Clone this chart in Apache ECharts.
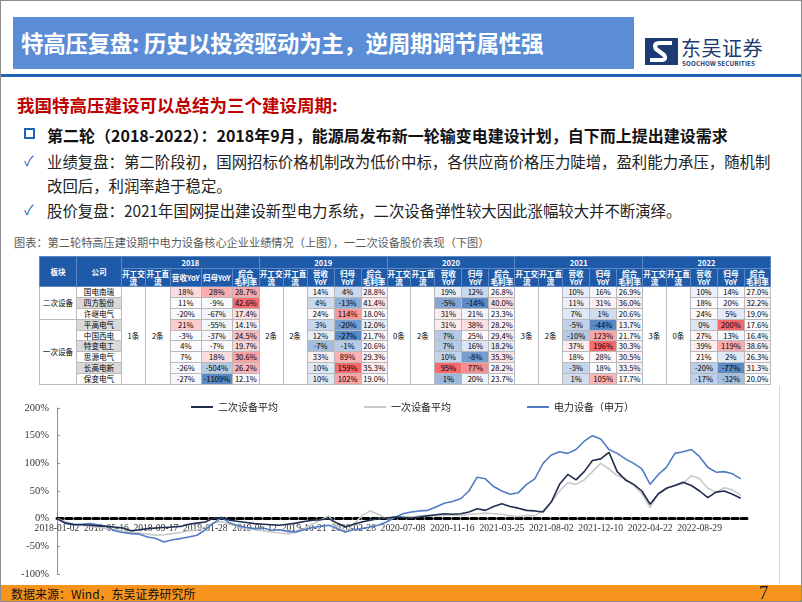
<!DOCTYPE html>
<html>
<head>
<meta charset="utf-8">
<script src="https://cdn.jsdelivr.net/npm/echarts@6.0.0/dist/echarts.min.js"></script>
<style>
html,body{margin:0;padding:0;background:#fff;}
body{width:802px;height:602px;position:relative;overflow:hidden;font-family:"Noto Sans CJK SC","Noto Sans",sans-serif;color:#000;}
#frame{position:absolute;left:0;top:0;width:800px;height:600px;border:1px solid #8c8c8c;z-index:5;pointer-events:none;}
#titlebar{position:absolute;left:13px;top:17px;width:621px;height:52px;background:#5a8dd6;}
#title{position:absolute;left:21px;top:17px;height:52px;line-height:52px;color:#fff;font-size:22.6px;font-weight:bold;letter-spacing:-0.4px;white-space:nowrap;}
#rule{position:absolute;left:0;top:74px;width:802px;height:3px;background:#1f64b6;}
#logo{position:absolute;left:645px;top:36px;width:130px;height:32px;}
#logo .cn{position:absolute;left:36px;top:-3px;font-size:20px;color:#1c3b72;letter-spacing:0.5px;white-space:nowrap;}
#logo .en{position:absolute;left:37px;top:23px;font-size:6.3px;font-weight:bold;color:#1c3b72;white-space:nowrap;letter-spacing:0.1px;}
.txt{position:absolute;white-space:nowrap;}
#h1{left:17px;top:92px;font-size:17.5px;font-weight:bold;color:#c00000;}
#h2{left:47px;top:123px;font-size:16px;font-weight:bold;color:#111;}
#sq{position:absolute;left:24px;top:128px;width:7px;height:7px;border:2px solid #1f64b6;}
.chk{position:absolute;left:24px;color:#1f64b6;font-size:14px;}
.body{font-size:15.4px;color:#222;left:47px;}
#cap{left:14px;top:234px;font-size:11.2px;color:#595959;}
#tbl{position:absolute;left:39px;top:256px;border-collapse:collapse;table-layout:fixed;font-size:7.6px;}
#tbl td,#tbl th{padding:0;text-align:center;vertical-align:middle;line-height:8px;overflow:hidden;white-space:nowrap;}
#tbl th{background:#1f5aa8;color:#fff;font-weight:bold;border:1px solid #5d88c6;}
#tbl td{border:1px solid #b9b9b9;height:9.9px;}
#tbl tr.h1 th{height:11px;}
#tbl tr.h2 th{height:17px;}
#tbl td.gray{background:#d9d9d9;}
#chart{position:absolute;left:0;top:388px;width:790px;height:196px;}
#vline{position:absolute;left:779px;top:386px;width:1px;height:198px;background:#d8d8d8;}
#footer{position:absolute;left:0;top:585px;width:802px;height:17px;background:#f7941e;}
#src{position:absolute;left:11px;top:0;line-height:17px;font-size:12px;color:#111;}
#pg{position:absolute;left:759px;top:-3px;font-family:"Liberation Serif",serif;font-size:19px;color:#222;}
</style>
</head>
<body>
<div id="frame"></div>
<div id="titlebar"></div>
<div id="title">特高压复盘: 历史以投资驱动为主，逆周期调节属性强</div>
<div id="rule"></div>
<div id="logo">
  <svg width="33" height="27" viewBox="0 0 33 27" style="position:absolute;left:0;top:2px">
    <rect x="0" y="0" width="33" height="27" fill="#1c3b72"/>
    <path d="M27 5 L15 5 Q8 5 11 11 L19 17 Q22 22 16 22 L5 22" stroke="#fff" stroke-width="4.2" fill="none"/>
  </svg>
  <div class="cn">东吴证券</div>
  <div class="en">SOOCHOW SECURITIES</div>
</div>
<div class="txt" id="h1">我国特高压建设可以总结为三个建设周期:</div>
<div id="sq"></div>
<div class="txt" id="h2">第二轮（2018-2022）：2018年9月，能源局发布新一轮输变电建设计划，自下而上提出建设需求</div>
<div class="chk" style="top:150px">✓</div>
<div class="txt body" style="top:150px">业绩复盘：第二阶段初，国网招标价格机制改为低价中标，各供应商价格压力陡增，盈利能力承压，随机制</div>
<div class="txt body" style="top:174px">改回后，利润率趋于稳定。</div>
<div class="chk" style="top:199px">✓</div>
<div class="txt body" style="top:199px">股价复盘：2021年国网提出建设新型电力系统，二次设备弹性较大因此涨幅较大并不断演绎。</div>
<div class="txt" id="cap">图表：第二轮特高压建设期中电力设备核心企业业绩情况（上图），一二次设备股价表现（下图）</div>
<table id="tbl"></table>
<div id="vline"></div>
<div id="chart"></div>
<div id="footer"><div id="src">数据来源：Wind，东吴证券研究所</div><div id="pg">7</div></div>

<script>
// ---------------- table data ----------------
const years = ['2018', '2019', '2020', '2021', '2022'];
const sectorNames = ['二次设备', '一次设备'];
const sectorRowCounts = [3, 6];
const companies = ['国电南瑞', '四方股份', '许继电气', '平高电气', '中国西电', '特变电工', '思源电气', '长高电新', '保变电气'];
const acStarts = ['1条', '2条', '0条', '3条', '3条'];
const dcStarts = ['2条', '2条', '2条', '2条', '0条'];
const revenueYoY = [
  [18, 11, -20, 21, -3, 4, 7, -26, -27],
  [14, 4, 24, 3, 12, -7, 33, 10, 10],
  [19, -5, 31, 31, 7, 7, 10, 95, 1],
  [10, 11, 7, -5, -10, 37, 18, -3, 1],
  [10, 18, 24, 0, 27, 39, 21, -20, -17]
];
const profitYoY = [
  [28, -9, -67, -55, -37, -7, 18, -504, -1109],
  [4, -13, 114, -20, -27, -1, 89, 159, 102],
  [12, -14, 21, 38, 25, 16, -8, 77, 20],
  [16, 31, 1, -44, 123, 196, 28, 18, 105],
  [14, 20, 5, 200, 13, 119, 2, -77, -32]
];
const grossMargin = [
  [28.7, 42.6, 17.4, 14.1, 24.5, 19.7, 30.6, 26.2, 12.1],
  [28.8, 41.4, 18.0, 12.0, 21.7, 20.6, 29.3, 35.3, 19.0],
  [26.8, 40.0, 23.3, 28.2, 29.4, 18.2, 35.3, 28.2, 23.7],
  [26.9, 36.0, 20.6, 13.7, 21.7, 30.3, 30.5, 33.5, 17.7],
  [27.0, 32.2, 19.0, 17.6, 16.4, 38.6, 26.3, 31.3, 20.0]
];

// ---------------- chart data ----------------
const xTickLabels = ['2018-01-02', '2018-05-16', '2018-09-17', '2019-01-28', '2019-06-12', '2019-10-21', '2020-02-28',
  '2020-07-08', '2020-11-16', '2021-03-25', '2021-08-02', '2021-12-10', '2022-04-22', '2022-08-29'];
const TICK_STEP = 90;      // trading days between labelled ticks
const SAMPLE_STEP = 15;    // trading days between read-off samples
const Y_MIN = -100, Y_MAX = 200, Y_STEP = 50;
const seriesNames = ['二次设备平均', '一次设备平均', '电力设备（申万）'];
const secondaryAvg = [0, -8, -10, -11, -12, -13, -14, -15, -17, -22, -20, -18, -17, -16, -15, -14, -10, -8, -6, 1,
  2, -3, -5, -7, -9, -10, -11, -12, -10, -8, -5, -3, -2, 0, -8, -15, -10, -6, -3, 0,
  1, 3, 2, 1, 3, 5, 7, 9, 8, 9, 12, 18, 15, 22, 27, 22, 19, 15, 14, 12,
  30, 62, 80, 70, 85, 105, 108, 120, 85, 70, 62, 50, 26, 45, 55, 60, 66, 60, 50, 38,
  48, 50, 44, 37];
const primaryAvg = [0, -5, -10, -12, -14, -16, -18, -20, -22, -25, -26, -28, -30, -29, -27, -25, -22, -20, -15, -8,
  -5, -10, -15, -18, -20, -22, -24, -26, -27, -25, -18, -10, -2, 5, -15, -25, -10, 5, 14, 8,
  0, 3, 4, 3, 5, 6, 5, 6, 7, 6, 8, 9, 10, 9, 8, 5, 4, 6, 5, 15,
  30, 50, 65, 62, 70, 85, 100, 90, 78, 72, 60, 45, 20, 45, 56, 60, 63, 78, 72, 55,
  48, 56, 52, 42];
const swPowerEquip = [0, -8, -12, -10, -9, -11, -14, -22, -25, -27, -28, -33, -36, -42, -38, -36, -33, -30, -20, -8,
  2, -8, -13, -16, -18, -17, -21, -20, -23, -24, -20, -16, -14, -12, -18, -24, -20, -18, -15, -12,
  -6, 2, 9, 12, 14, 15, 21, 28, 31, 36, 50, 75, 72, 58, 50, 44, 47, 62, 72, 100,
  115, 121, 118, 125, 140, 150, 144, 125, 118, 108, 100, 90, 62, 80, 93, 118, 121, 125, 112, 93,
  84, 85, 81, 72];

// ---------------- build table ----------------
function mix(a, b, t) {
  const pa = [parseInt(a.slice(1,3),16), parseInt(a.slice(3,5),16), parseInt(a.slice(5,7),16)];
  const pb = [parseInt(b.slice(1,3),16), parseInt(b.slice(3,5),16), parseInt(b.slice(5,7),16)];
  return 'rgb(' + pa.map((v, i) => Math.round(v + (pb[i] - v) * t)).join(',') + ')';
}
function scaleColor(v, min, mid, max) {
  if (v >= mid) return mix('#FCFCFF', '#F8696B', max === mid ? 0 : (v - mid) / (max - mid));
  return mix('#FCFCFF', '#5A8AC6', (mid - v) / (mid - min));
}
(function buildTable() {
  const tbl = document.getElementById('tbl');
  const widthsFirst = [21, 25, 31, 31, 27];
  const widthsOther = [21, 24, 27, 27, 26];
  let html = '<colgroup><col style="width:37px"><col style="width:45px">';
  years.forEach((y, i) => (i === 0 ? widthsFirst : widthsOther).forEach(w => html += '<col style="width:' + w + 'px">'));
  html += '</colgroup>';
  html += '<tr class="h1"><th rowspan="2">板块</th><th rowspan="2">公司</th>';
  years.forEach(y => html += '<th colspan="5">' + y + '</th>');
  html += '</tr><tr class="h2">';
  years.forEach((y, i) => {
    html += '<th>开工交<br>流</th><th>开工直<br>流</th>';
    html += i === 0 ? '<th>营收YoY</th><th>归母YoY</th>' : '<th>营收<br>YoY</th><th>归母<br>YoY</th>';
    html += '<th>综合<br>毛利率</th>';
  });
  html += '</tr>';
  const stats = years.map((y, yi) => {
    const all = revenueYoY[yi].concat(profitYoY[yi], grossMargin[yi]).slice().sort((a, b) => a - b);
    return {min: all[0], max: all[all.length - 1], mid: all[(all.length - 1) / 2]};
  });
  let sectorStart = 0, sIdx = 0;
  companies.forEach((c, r) => {
    html += '<tr>';
    if (r === sectorStart) {
      html += '<td rowspan="' + sectorRowCounts[sIdx] + '">' + sectorNames[sIdx] + '</td>';
      sectorStart += sectorRowCounts[sIdx]; sIdx++;
    }
    html += '<td class="' + (r % 2 === 1 ? 'gray' : '') + '">' + c + '</td>';
    years.forEach((y, yi) => {
      if (r === 0) html += '<td rowspan="' + companies.length + '">' + acStarts[yi] + '</td><td rowspan="' + companies.length + '">' + dcStarts[yi] + '</td>';
      const st = stats[yi];
      const cells = [[revenueYoY[yi][r], revenueYoY[yi][r] + '%'], [profitYoY[yi][r], profitYoY[yi][r] + '%'], [grossMargin[yi][r], grossMargin[yi][r].toFixed(1) + '%']];
      cells.forEach(([v, t]) => html += '<td style="background:' + scaleColor(v, st.min, st.mid, st.max) + '">' + t + '</td>');
    });
    html += '</tr>';
  });
  tbl.innerHTML = html;
})();

// ---------------- chart ----------------
const toPoints = arr => arr.map((v, k) => [k * SAMPLE_STEP, v]);
const chartEl = document.getElementById('chart');
const chart = echarts.init(chartEl, null, {renderer: 'canvas'});
const serif = '"Liberation Serif","Times New Roman",serif';
const cjk = '"Noto Sans CJK SC","Noto Sans",sans-serif';
const GRID = {left: 57, right: 41, top: 20, bottom: 10};
const gridHeight = chartEl.clientHeight - GRID.top - GRID.bottom;
// lift the category axis (labels + dashed line) onto the 0% level
const zeroOffset = -gridHeight * (0 - Y_MIN) / (Y_MAX - Y_MIN);
const legendBase = {icon: 'rect', itemWidth: 22, itemHeight: 2, top: 9, textStyle: {fontSize: 10, color: '#222', fontFamily: cjk}};
chart.setOption({
  animation: false,
  grid: GRID,
  legend: [
    Object.assign({}, legendBase, {data: [seriesNames[0]], left: 186}),
    Object.assign({}, legendBase, {data: [seriesNames[1]], left: 359}),
    Object.assign({}, legendBase, {data: [seriesNames[2]], left: 522})
  ],
  xAxis: {
    type: 'value', min: 0, max: TICK_STEP * xTickLabels.length, interval: TICK_STEP,
    position: 'bottom', offset: zeroOffset,
    axisLine: {onZero: false, lineStyle: {color: '#000', width: 3, type: [6, 3]}},
    axisTick: {show: false}, splitLine: {show: false},
    axisLabel: {
      fontFamily: serif, fontSize: 9.6, color: '#333', margin: 5,
      formatter: v => { const i = Math.round(v / TICK_STEP); return i < xTickLabels.length ? xTickLabels[i] : ''; }
    }
  },
  yAxis: {
    type: 'value', min: Y_MIN, max: Y_MAX, interval: Y_STEP,
    axisLine: {show: true, onZero: false, lineStyle: {color: '#8c8c8c'}},
    axisTick: {show: true, inside: true, length: 3, lineStyle: {color: '#8c8c8c'}},
    splitLine: {show: false},
    axisLabel: {formatter: '{value}%', fontFamily: serif, fontSize: 10.5, color: '#333', margin: 8}
  },
  series: [
    {name: seriesNames[0], type: 'line', data: toPoints(secondaryAvg), showSymbol: false, symbol: 'none', z: 4,
      lineStyle: {color: '#1f2e4f', width: 1.6}, itemStyle: {color: '#1f2e4f'}},
    {name: seriesNames[1], type: 'line', data: toPoints(primaryAvg), showSymbol: false, symbol: 'none', z: 2,
      lineStyle: {color: '#c9c9c9', width: 1.6}, itemStyle: {color: '#c9c9c9'}},
    {name: seriesNames[2], type: 'line', data: toPoints(swPowerEquip), showSymbol: false, symbol: 'none', z: 3,
      lineStyle: {color: '#4f7cc4', width: 1.6}, itemStyle: {color: '#4f7cc4'}}
  ]
});
</script>
</body>
</html>
